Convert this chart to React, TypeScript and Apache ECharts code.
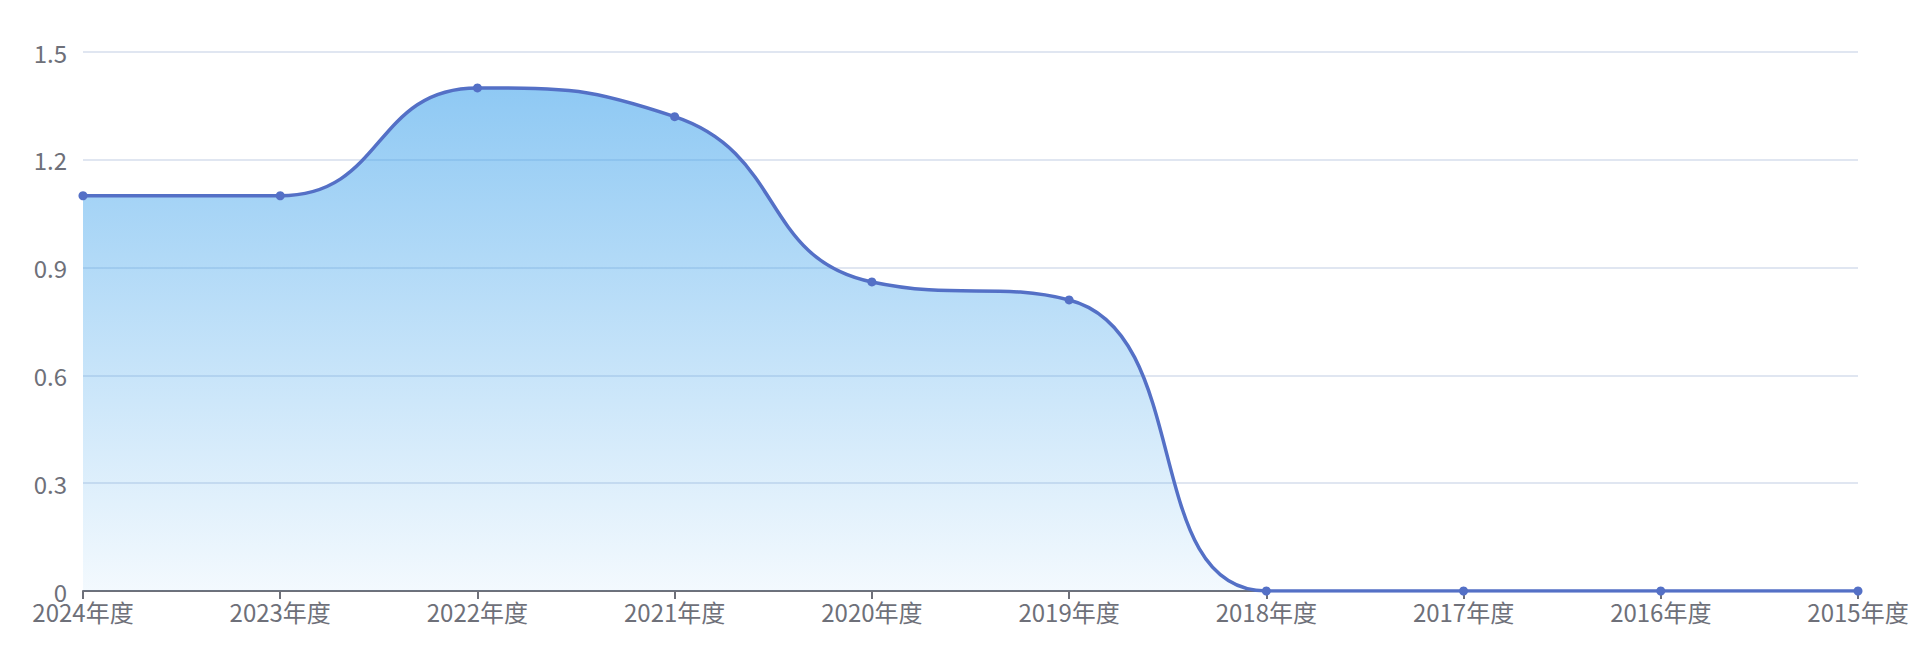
import React, { useEffect, useRef } from "react";
import * as echarts from "echarts";

const categories = ["2024年度", "2023年度", "2022年度", "2021年度", "2020年度", "2019年度", "2018年度", "2017年度", "2016年度", "2015年度"];
const values = [1.1, 1.1, 1.4, 1.32, 0.86, 0.81, 0, 0, 0, 0];
const yMin = 0;
const yMax = 1.5;
const yInterval = 0.3;

const FONT = "'Microsoft YaHei', 'Noto Sans CJK SC', sans-serif";
const LABEL_COLOR = "#6E7079";

export default function App() {
  const ref = useRef<HTMLDivElement>(null);
  useEffect(() => {
    document.body.style.margin = "0";
    document.body.style.overflow = "hidden";
    const chart = echarts.init(ref.current!, null, { renderer: "svg" });
    chart.setOption({
      animation: false,
      backgroundColor: "#ffffff",
      grid: { left: 83, right: 68, top: 52, bottom: 73, containLabel: false },
      xAxis: {
        type: "category",
        data: categories,
        boundaryGap: false,
        axisLine: { lineStyle: { color: LABEL_COLOR, width: 2 } },
        axisTick: { show: true, length: 8, lineStyle: { color: LABEL_COLOR, width: 2 } },
        axisLabel: { color: LABEL_COLOR, fontSize: 24, fontFamily: FONT, margin: 8 },
      },
      yAxis: {
        type: "value",
        min: yMin,
        max: yMax,
        interval: yInterval,
        axisLine: { show: false },
        axisTick: { show: false },
        axisLabel: { color: LABEL_COLOR, fontSize: 24, fontFamily: FONT, margin: 16 },
        splitLine: { lineStyle: { color: "#E0E6F1", width: 2 } },
      },
      series: [
        {
          type: "line",
          data: values,
          smooth: true,
          symbol: "circle",
          symbolSize: 9,
          itemStyle: { color: "#5470C6" },
          lineStyle: { color: "#5470C6", width: 3.5 },
          areaStyle: {
            opacity: 1,
            color: new echarts.graphic.LinearGradient(0, 0, 0, 1, [
              { offset: 0, color: "rgba(58,160,235,0.57)" },
              { offset: 1, color: "rgba(58,160,235,0.06)" },
            ]),
          },
        },
      ],
    });
    return () => chart.dispose();
  }, []);
  return <div ref={ref} style={{ width: 1926, height: 664 }} />;
}
